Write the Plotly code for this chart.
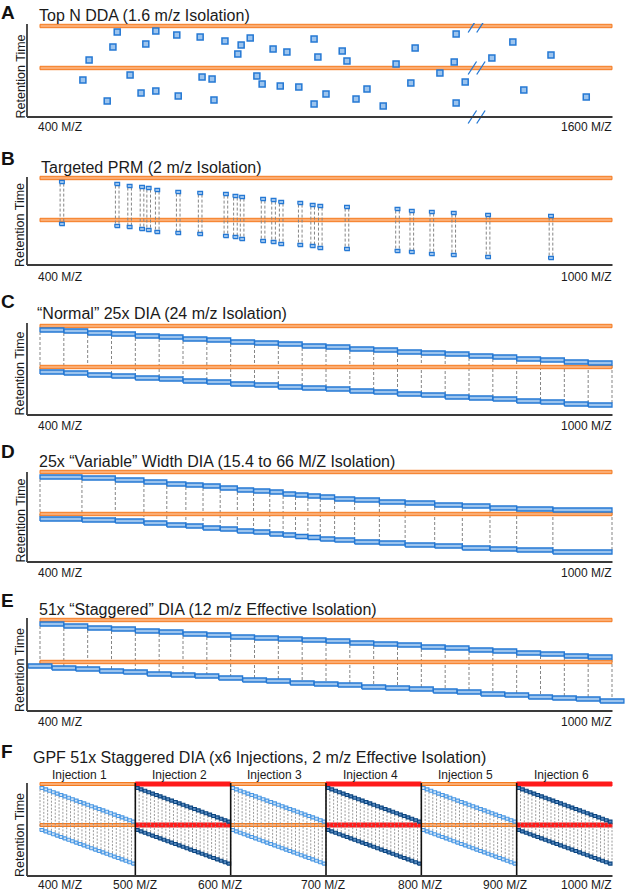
import plotly.graph_objects as go

FIG_W, FIG_H = 625, 891
FONT = "Liberation Sans, Arial, sans-serif"

# ---------------- DATA ----------------
# Panel A - Top N DDA: precursor picks (m/z, retention time in arbitrary units)
dda_mz = [562, 643, 687, 736, 788, 841, 822, 815, 553, 622, 503, 889, 918, 975, 983,
          490, 589, 740, 761, 855, 866, 904, 943, 541, 612, 643, 690, 765, 975,
          1034, 1044, 1147, 1187, 1273, 1269, 1239, 1292, 1348, 1392, 1472,
          1178, 1086, 1000, 1063, 1120, 1273, 1415, 1546]
dda_rt = [85, 86, 82, 80, 76, 79, 72, 63, 70, 73, 57, 68, 65, 78, 60,
          37, 42, 40, 38, 41, 33, 31, 30, 16, 24, 26, 21, 17, 13,
          66, 56, 53, 69, 83, 55, 44, 35, 59, 75, 62,
          34, 28, 23, 18, 11, 14, 27, 20]
dda_iso_rt = [91, 49]
dda_break_mz = [1307, 1325]

# Panel B - Targeted PRM
prm_mz = [423, 481, 494, 507, 514, 523, 545, 568, 595, 605, 612, 634, 645, 653,
          673, 686, 694, 722, 775, 790, 811, 834, 870, 936]
prm_rt_start = [83, 81, 79, 78, 77, 75, 73, 72, 71, 69, 68, 66, 65, 63,
                62, 60, 59, 58, 56, 54, 53, 52, 50, 49]
prm_rt_end = [41, 39, 38, 36, 35, 33, 32, 31, 29, 28, 26, 24, 23, 21,
              20, 19, 17, 16, 14, 13, 11, 10, 8, 7]
prm_iso_rt = [87, 45]

# Panel C - "Normal" DIA
dia_edges = [400, 425, 450, 475, 500, 525, 550, 575, 600, 625, 650, 675, 700,
             725, 750, 775, 800, 825, 850, 875, 900, 925, 950, 975, 1000]
dia_top = [85, 84, 82, 81, 79, 78, 76, 75, 73, 72, 71, 69, 68, 66, 65, 63, 62, 61,
           59, 58, 56, 55, 53, 52]
dia_bot = [43, 42, 40, 39, 37, 36, 34, 33, 31, 30, 28, 27, 26, 24, 23, 21, 20, 18,
           17, 16, 14, 13, 11, 10]
dia_iso_rt = [89, 48]

# Panel D - Variable width DIA
var_edges = [400, 444, 479, 509, 533, 553, 571, 589, 607, 624, 641, 655, 668, 681,
             694, 709, 730, 756, 783, 814, 843, 872, 900, 938, 1000]
var_top = [85, 84, 82, 80, 78, 77, 76, 74, 72, 71, 70, 68, 67, 66, 65, 63, 62, 60,
           59, 57, 56, 54, 53, 52]
var_bot = [43, 42, 41, 39, 37, 36, 34, 33, 31, 30, 28, 27, 25.5, 24.5, 23, 22, 20,
           19, 17, 16, 14, 13, 12, 10]
var_iso_rt = [90, 48]

# Panel E - Staggered DIA
stg_top_edges = dia_edges
stg_top = [87, 85, 83, 82, 80, 79, 77, 76, 74, 73, 72, 71, 70, 68, 67, 66, 64, 63,
           61, 60, 58, 57, 55, 54]
stg_bot_edges = [387.5, 412.5, 437.5, 462.5, 487.5, 512.5, 537.5, 562.5, 587.5,
                 612.5, 637.5, 662.5, 687.5, 712.5, 737.5, 762.5, 787.5, 812.5,
                 837.5, 862.5, 887.5, 912.5, 937.5, 962.5, 987.5, 1012.5]
stg_bot = [45, 43, 42, 40, 39, 37, 36, 35, 33, 31, 30, 28, 27, 26, 24, 23, 22, 20,
           19, 17, 16, 14, 13, 12, 10]
stg_iso_rt = [91, 49]

# Panel F - GPF staggered DIA, 6 injections
gpf_labels = ["Injection 1", "Injection 2", "Injection 3",
              "Injection 4", "Injection 5", "Injection 6"]
gpf_start = [400, 500, 600, 700, 800, 900]
gpf_span = 100
gpf_win = 4
gpf_top = [88.0, 86.6, 85.2, 83.8, 82.4, 81.0, 79.6, 78.2, 76.8, 75.4, 74.0, 72.6,
           71.2, 69.8, 68.4, 67.0, 65.6, 64.2, 62.8, 61.4, 60.0, 58.6, 57.2, 55.8, 54.4]
gpf_bot = [46.0, 44.6, 43.2, 41.8, 40.4, 39.0, 37.6, 36.2, 34.8, 33.4, 32.0, 30.6,
           29.2, 27.8, 26.4, 25.0, 23.6, 22.2, 20.8, 19.4, 18.0, 16.6, 15.2, 13.8, 12.4]
gpf_iso_rt = [92, 51]

# ---------------- STYLE ----------------
ORANGE_LINE = "#f47b20"
ORANGE_FILL = "#fbac72"
BLUE_LINE = "#2478d4"
BLUE_FILL = "#9cc4ee"
LBLUE_LINE = "#4a98e4"
LBLUE_FILL = "#cfe3f7"
DARK_LINE = "#0b4580"
DARK_FILL = "#5a8cc2"
RED = "#ff1a1a"
GRAY = "#858585"
AXIS = "#3a3a3a"
TXT = "#1a1a1a"


def px_x(px):
    return px / FIG_W


def px_y(py):
    return 1 - py / FIG_H


fig = go.Figure()

# panel geometry: (bottom px, data height, x range, y-axis line top px)
k6 = 600 / 572.0
k12 = 1200 / 572.0
xr6 = [400 - 15 * k6, 400 + 585 * k6]
xr12 = [400 - 15 * k12, 400 + 585 * k12]
panels = [
    (117, 94, xr12, 24),
    (265, 90, xr6, 177),
    (415, 92, xr6, 323),
    (562, 93, xr6, 472),
    (711, 94, xr6, 618),
    (876, 95, xr6, 783),
]

layout_axes = {}
shapes = []
for i, (bottom, H, xr, ytop) in enumerate(panels):
    sfx = "" if i == 0 else str(i + 1)
    layout_axes["xaxis" + sfx] = dict(domain=[px_x(25), 1], range=xr, visible=False,
                                      fixedrange=True, anchor="y" + sfx)
    layout_axes["yaxis" + sfx] = dict(domain=[px_y(bottom + 8), px_y(bottom - H)],
                                      range=[-8, H], visible=False, fixedrange=True,
                                      anchor="x" + sfx)
    # axis lines
    shapes.append(dict(type="line", xref="paper", yref="paper",
                       x0=px_x(27), x1=px_x(27), y0=px_y(bottom), y1=px_y(ytop),
                       line=dict(color=AXIS, width=1.8)))
    shapes.append(dict(type="line", xref="paper", yref="paper",
                       x0=px_x(27), x1=px_x(612.5), y0=px_y(bottom), y1=px_y(bottom),
                       line=dict(color=AXIS, width=1.8)))


def ax(i):
    return ("x", "y") if i == 1 else ("x%d" % i, "y%d" % i)


def add_rects(i, x0s, x1s, ycs, hh, line, fill, lw=1.0):
    xs, ys = [], []
    for a, b, c in zip(x0s, x1s, ycs):
        xs += [a, b, b, a, a, None]
        ys += [c - hh, c - hh, c + hh, c + hh, c - hh, None]
    xa, ya = ax(i)
    fig.add_trace(go.Scatter(x=xs, y=ys, mode="lines", fill="toself", fillcolor=fill,
                             line=dict(color=line, width=lw), xaxis=xa, yaxis=ya,
                             hoverinfo="skip"))


def add_segs(i, segs, color, width, dash=None):
    xs, ys = [], []
    for x0, y0, x1, y1 in segs:
        xs += [x0, x1, None]
        ys += [y0, y1, None]
    xa, ya = ax(i)
    fig.add_trace(go.Scatter(x=xs, y=ys, mode="lines",
                             line=dict(color=color, width=width, dash=dash),
                             xaxis=xa, yaxis=ya, hoverinfo="skip"))


# ---- Panel A ----
add_rects(1, [400] * len(dda_iso_rt), [1600] * len(dda_iso_rt), dda_iso_rt, 1.7,
          ORANGE_LINE, ORANGE_FILL)
fig.add_trace(go.Scatter(x=dda_mz, y=dda_rt, mode="markers", xaxis="x", yaxis="y",
                         marker=dict(symbol="square", size=6, color=BLUE_FILL,
                                     line=dict(color=BLUE_LINE, width=1.5)),
                         hoverinfo="skip"))
brk = []
for yb in dda_iso_rt + [0]:
    for c in dda_break_mz:
        brk.append((c - 8.8, yb - 6.5, c + 8.8, yb + 6.5))
add_segs(1, brk, BLUE_LINE, 1.3)

# ---- Panel B ----
add_rects(2, [400] * 2, [1000] * 2, prm_iso_rt, 1.7, ORANGE_LINE, ORANGE_FILL)
hh_sq = 1.6
segs = []
for m, t, b in zip(prm_mz, prm_rt_start, prm_rt_end):
    for dx in (-1.9, 1.9):
        segs.append((m + dx, t - hh_sq, m + dx, b + hh_sq))
add_segs(2, segs, GRAY, 1, "3px,2px")
add_rects(2, [m - 2.5 for m in prm_mz], [m + 2.5 for m in prm_mz], prm_rt_start,
          hh_sq, BLUE_LINE, BLUE_FILL, 1.2)
add_rects(2, [m - 2.5 for m in prm_mz], [m + 2.5 for m in prm_mz], prm_rt_end,
          hh_sq, BLUE_LINE, BLUE_FILL, 1.2)


def window_panel(i, edges, top, bot, iso, hh=2.0):
    n = len(top)
    segs = []
    for k, x in enumerate(edges):
        yt = top[min(k, n - 1)] - hh
        yb = bot[max(k - 1, 0)] + hh
        segs.append((x, yt, x, yb))
    add_segs(i, segs, GRAY, 1, "3px,2px")
    add_rects(i, [400] * 2, [1000] * 2, iso, 1.7, ORANGE_LINE, ORANGE_FILL)
    add_rects(i, edges[:-1], edges[1:], top, hh, BLUE_LINE, BLUE_FILL, 1.3)
    add_rects(i, edges[:-1], edges[1:], bot, hh, BLUE_LINE, BLUE_FILL, 1.3)


# ---- Panel C ----
window_panel(3, dia_edges, dia_top, dia_bot, dia_iso_rt)
# ---- Panel D ----
window_panel(4, var_edges, var_top, var_bot, var_iso_rt)

# ---- Panel E ----
hh = 2.0
segs = []
for k, x in enumerate(stg_top_edges):
    segs.append((x, stg_top[min(k, len(stg_top) - 1)] - hh, x, stg_bot[k] + hh))
add_segs(5, segs, GRAY, 1, "3px,2px")
add_rects(5, [400] * 2, [1000] * 2, stg_iso_rt, 1.7, ORANGE_LINE, ORANGE_FILL)
add_rects(5, stg_top_edges[:-1], stg_top_edges[1:], stg_top, hh, BLUE_LINE, BLUE_FILL, 1.3)
add_rects(5, stg_bot_edges[:-1], stg_bot_edges[1:], stg_bot, hh, BLUE_LINE, BLUE_FILL, 1.3)

# ---- Panel F ----
hhf = 1.5
nwin = len(gpf_top)
for j, s in enumerate(gpf_start):
    dark = (j % 2 == 1)
    bar_line = RED if dark else ORANGE_LINE
    bar_fill = RED if dark else ORANGE_FILL
    add_rects(6, [s], [s + gpf_span], [gpf_iso_rt[0]], 2.0 if dark else 1.5,
              bar_line, bar_fill)
    add_rects(6, [s], [s + gpf_span], [gpf_iso_rt[1]], 2.0 if dark else 1.5,
              bar_line, bar_fill)
    edges = [s + gpf_win * w for w in range(nwin + 1)]
    segs = []
    for k, x in enumerate(edges):
        segs.append((x, gpf_top[min(k, nwin - 1)] - hhf, x, gpf_bot[max(k - 1, 0)] + hhf))
    add_segs(6, segs, "#8e8e8e", 0.9, "2px,1.5px")
    lc = DARK_LINE if dark else LBLUE_LINE
    fc = DARK_FILL if dark else LBLUE_FILL
    add_rects(6, edges[:-1], edges[1:], gpf_top, hhf, lc, fc, 1.1)
    add_rects(6, edges[:-1], edges[1:], gpf_bot, hhf, lc, fc, 1.1)

# injection separators
seps = [(s, -0.5, s, 93) for s in gpf_start[1:]]
add_segs(6, seps, "#111111", 1.6)

# ---------------- TEXT ----------------
ann = []


def text(t, x, y, size, xanchor="left", bold=False, angle=0, color=TXT):
    ann.append(dict(text=("<b>%s</b>" % t) if bold else t, x=px_x(x), y=px_y(y),
                    xref="paper", yref="paper", xanchor=xanchor, yanchor="middle",
                    showarrow=False, textangle=angle,
                    font=dict(family=FONT, size=size, color=color)))


letters = ["A", "B", "C", "D", "E", "F"]
letter_y = [12, 158.5, 301.7, 451.7, 600, 751]
titles = ["Top N DDA (1.6 m/z Isolation)",
          "Targeted PRM (2 m/z Isolation)",
          "\u201cNormal\u201d 25x DIA (24 m/z Isolation)",
          "25x \u201cVariable\u201d Width DIA (15.4 to 66 M/Z Isolation)",
          "51x \u201cStaggered\u201d DIA (12 m/z Effective Isolation)",
          "GPF 51x Staggered DIA (x6 Injections, 2 m/z Effective Isolation)"]
title_x = [37, 39, 35, 36.5, 36.5, 31]
title_y = [15.8, 167.5, 314, 461, 609, 757.5]
rt_y = [76.5, 225, 373.5, 520.5, 670, 835]
tick_y = [127.5, 277, 426, 572.5, 721.5, 884.5]
right_labels = ["1600 M/Z", "1000 M/Z", "1000 M/Z", "1000 M/Z", "1000 M/Z", "1000 M/Z"]

for i in range(6):
    text(letters[i], -1, letter_y[i], 19, bold=True, color="#111111")
    text(titles[i], title_x[i], title_y[i], 16)
    text("Retention Time", 20, rt_y[i], 12.5, xanchor="center", angle=-90)
    text("400 M/Z", 36, tick_y[i], 12)
    if i < 5:
        text(right_labels[i], 614, tick_y[i], 12, xanchor="right")

f_mid_labels = ["500 M/Z", "600 M/Z", "700 M/Z", "800 M/Z", "900 M/Z"]
f_mid_x = [135, 219.5, 323.5, 420.5, 504.5]
for t, x in zip(f_mid_labels, f_mid_x):
    text(t, x, tick_y[5], 12, xanchor="center")
text("1000 M/Z", 614, tick_y[5], 12, xanchor="right")

inj_x = [79, 179, 274.5, 370.5, 465.5, 561]
for t, x in zip(gpf_labels, inj_x):
    text(t, x, 775, 12, xanchor="center")

fig.update_layout(width=FIG_W, height=FIG_H, margin=dict(l=0, r=0, t=0, b=0),
                  paper_bgcolor="white", plot_bgcolor="white", showlegend=False,
                  hovermode=False, annotations=ann, shapes=shapes, **layout_axes)

fig.write_html("out.html", config={"displayModeBar": False, "staticPlot": True},
               post_script="document.body.style.margin='0px';"
                           "document.body.style.overflow='hidden';")
